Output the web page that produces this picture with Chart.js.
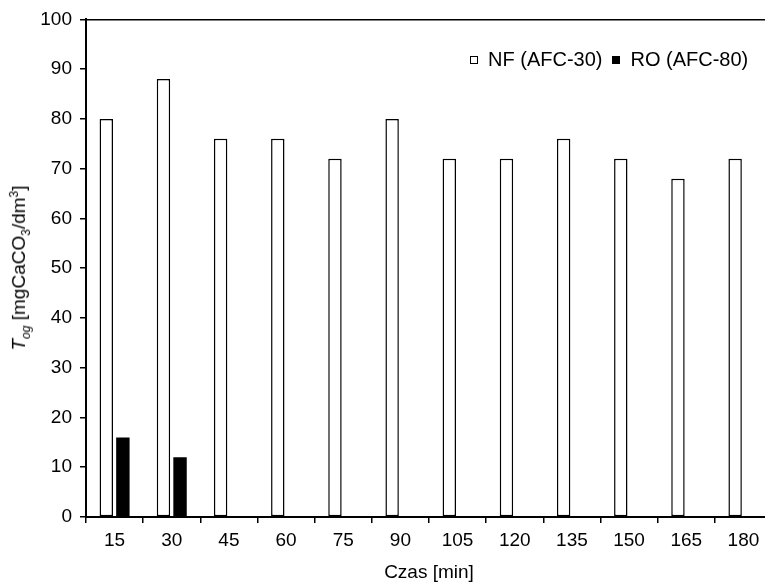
<!DOCTYPE html>
<html>
<head>
<meta charset="utf-8">
<script src="https://cdn.jsdelivr.net/npm/chart.js@4"></script>
<style>
  html, body { margin: 0; padding: 0; overflow: hidden; background: #fff; }
  #wrap { position: relative; width: 775px; height: 582px; }
  .ytitle {
    position: absolute; left: 20px; top: 268px;
    transform: translate(-50%, -50%) rotate(-90deg);
    white-space: nowrap; font-family: 'Liberation Sans', Arial, sans-serif;
    font-size: 19px; color: #000;
  }
  .ytitle sub, .ytitle sup { font-size: 12px; }
  .legend {
    position: absolute; left: 470px; top: 48px;
    white-space: nowrap; font-family: 'Liberation Sans', Arial, sans-serif;
    font-size: 20px; color: #000;
  }
  .sw { display: inline-block; width: 6px; height: 6px; border: 1px solid #000; margin-right: 10px; vertical-align: 2px; }
  .gap { display: inline-block; width: 10px; }
</style>
</head>
<body>
<div id="wrap">
  <canvas id="chartTog"></canvas>
  <div class="ytitle"><i>T</i><sub><i>og</i></sub> [mgCaCO<sub>3</sub>/dm<sup>3</sup>]</div>
  <div class="legend"><span class="sw" style="background:#fff"></span>NF (AFC-30)<span class="gap"></span><span class="sw" style="background:#000"></span>RO (AFC-80)</div>
</div>
<script>
Chart.defaults.font.family = "'Liberation Sans', Arial, sans-serif";
Chart.defaults.color = '#000';

const categories = ['15', '30', '45', '60', '75', '90', '105', '120', '135', '150', '165', '180'];
const nfValues = [80, 88, 76, 76, 72, 80, 72, 72, 76, 72, 68, 72];
const roValues = [16, 12, null, null, null, null, null, null, null, null, null, null];
const seriesLabels = ['NF (AFC-30)', 'RO (AFC-80)'];

const ctx = document.getElementById('chartTog').getContext('2d');
new Chart(ctx, {
    type: 'bar',
    data: {
        labels: categories,
        datasets: [{
            label: seriesLabels[0],
            data: nfValues,
            backgroundColor: '#ffffff',
            borderColor: '#000000',
            borderWidth: 1.5,
            borderSkipped: false,
            categoryPercentage: 0.58,
            barPercentage: 0.81
        }, {
            label: seriesLabels[1],
            data: roValues,
            backgroundColor: '#000000',
            borderColor: '#000000',
            borderWidth: 0,
            categoryPercentage: 0.58,
            barPercentage: 0.81
        }]
    },
    options: {
        responsive: true,
        maintainAspectRatio: false,
        animation: false,
        layout: {
            padding: { left: 0, top: 19, right: 3, bottom: 0 }
        },
        plugins: {
            legend: { display: false },
            tooltip: { enabled: false }
        },
        scales: {
            x: {
                grid: {
                    drawOnChartArea: false,
                    color: '#000',
                    tickLength: 6,
                    lineWidth: 1.5
                },
                border: { color: '#000', width: 2 },
                ticks: { font: { size: 19 }, padding: 6, maxRotation: 0 },
                title: {
                    display: true,
                    text: 'Czas [min]',
                    font: { size: 19, lineHeight: 1 },
                    padding: { top: 0, bottom: 0 }
                },
                afterFit: (scale) => { scale.height = 65; }
            },
            y: {
                min: 0,
                max: 100,
                grid: {
                    color: (c) => c.tick && c.tick.value === 100 ? '#000' : 'rgba(0,0,0,0)',
                    tickColor: '#000',
                    lineWidth: 1.5,
                    tickLength: 6
                },
                border: { color: '#000', width: 2 },
                ticks: { stepSize: 10, font: { size: 19 }, padding: 8 },
                afterFit: (scale) => { scale.width = 86; }
            }
        }
    }
});
</script>
</body>
</html>
